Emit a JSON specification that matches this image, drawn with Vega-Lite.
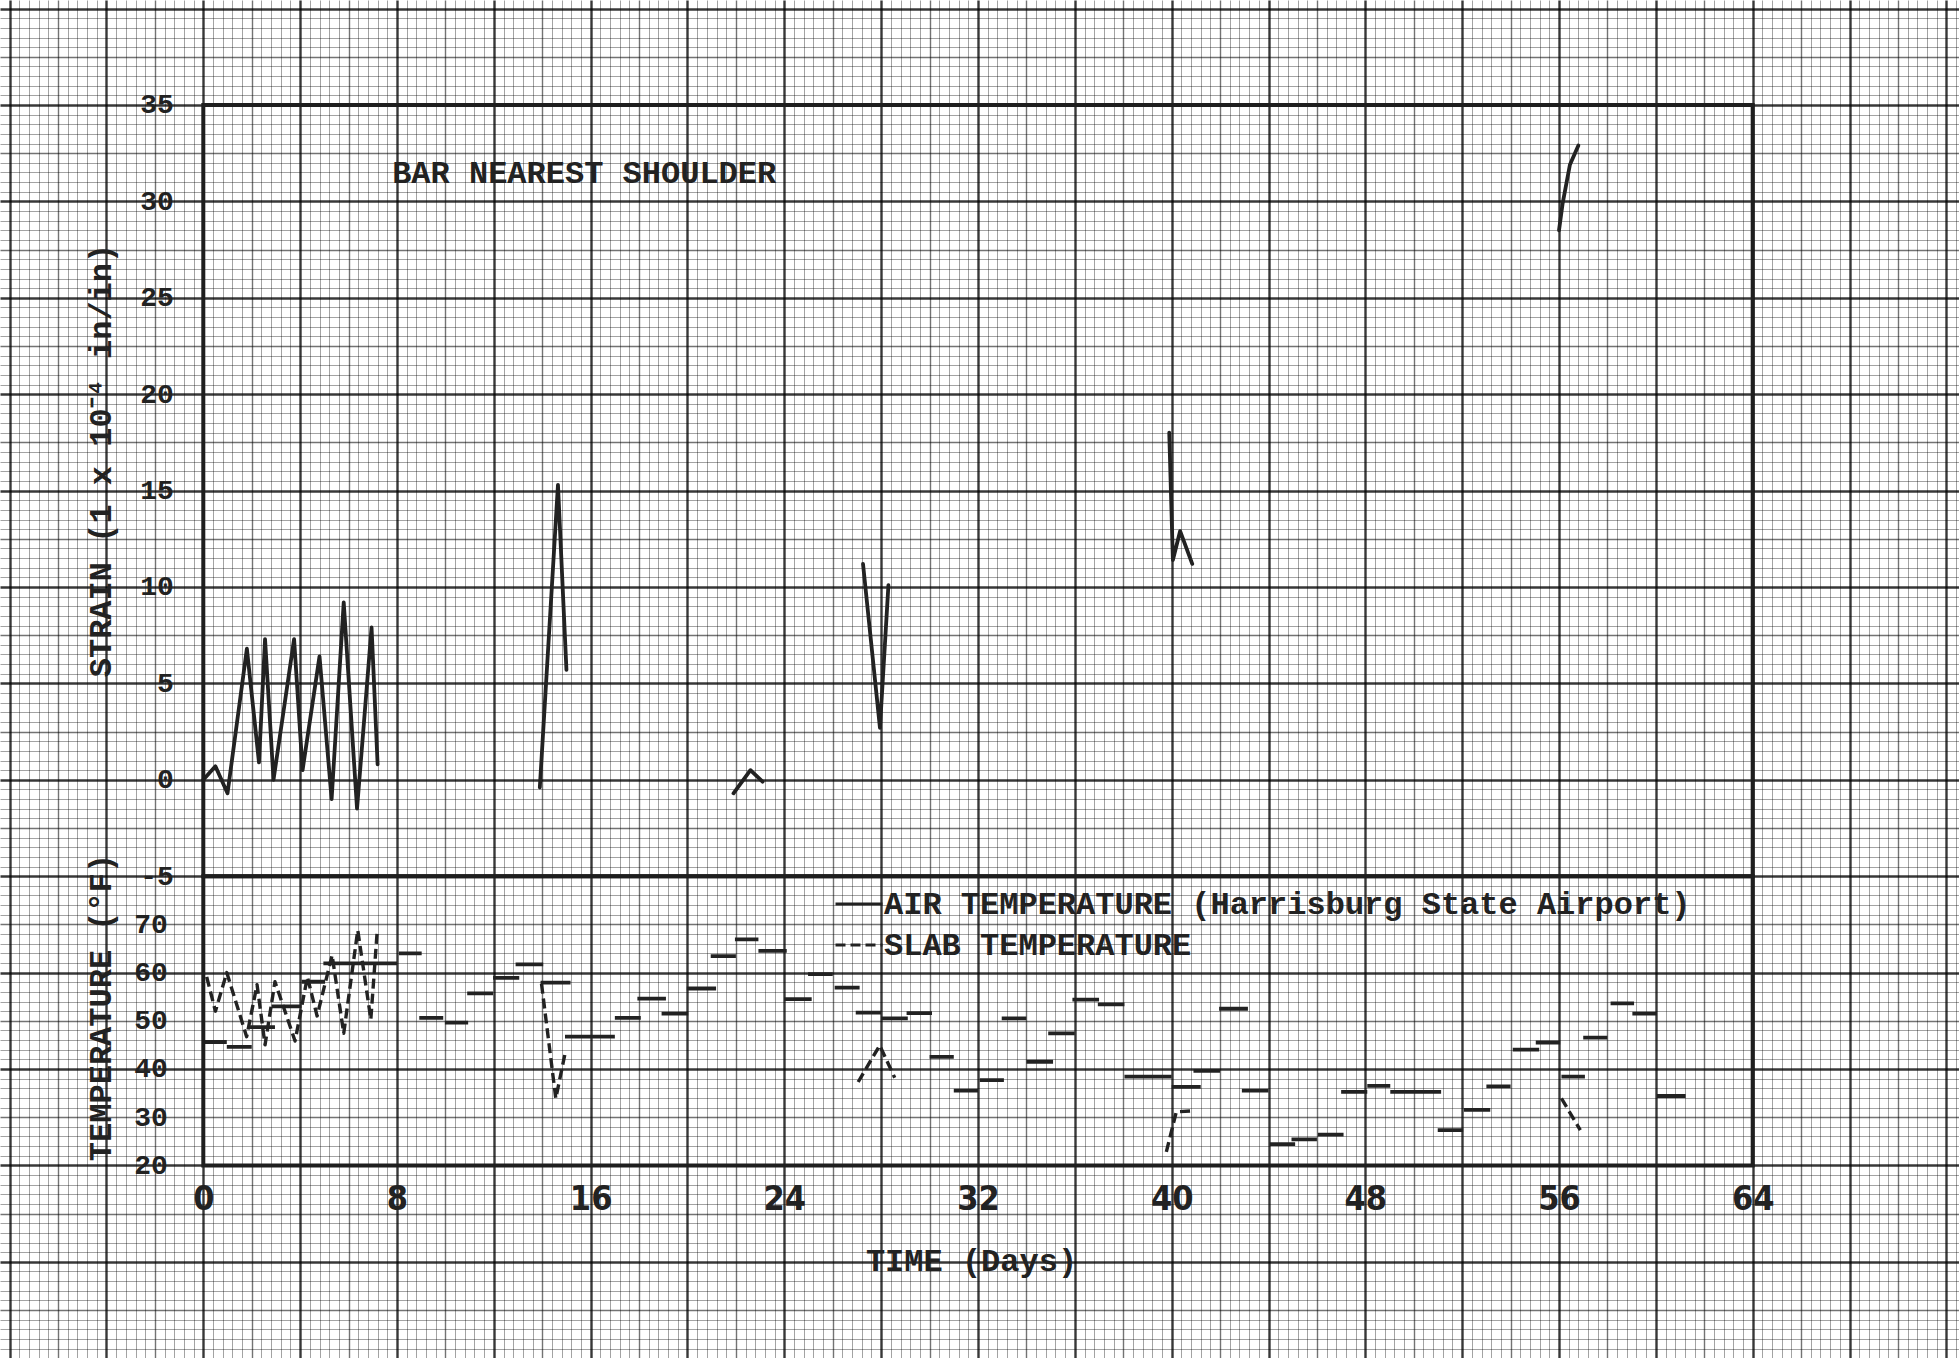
{
  "$schema": "https://vega.github.io/schema/vega-lite/v6.json",
  "width": 1959,
  "height": 1358,
  "autosize": {"type": "none"},
  "padding": 0,
  "background": "#ffffff",
  "config": {"view": {"stroke": null}, "font": "Liberation Mono"},
  "datasets": {
    "strain": [
      {"seg": "A", "day": 0, "strain": 0},
      {"seg": "A", "day": 0.5, "strain": 0.7},
      {"seg": "A", "day": 1.0, "strain": -0.7},
      {"seg": "A", "day": 1.8, "strain": 6.8},
      {"seg": "A", "day": 2.3, "strain": 0.9},
      {"seg": "A", "day": 2.55, "strain": 7.3},
      {"seg": "A", "day": 2.9, "strain": 0.0},
      {"seg": "A", "day": 3.75, "strain": 7.3},
      {"seg": "A", "day": 4.1, "strain": 0.5},
      {"seg": "A", "day": 4.8, "strain": 6.4},
      {"seg": "A", "day": 5.3, "strain": -1.0},
      {"seg": "A", "day": 5.8, "strain": 9.2},
      {"seg": "A", "day": 6.35, "strain": -1.5},
      {"seg": "A", "day": 6.95, "strain": 7.9},
      {"seg": "A", "day": 7.2, "strain": 0.8},
      {"seg": "B", "day": 13.9, "strain": -0.4},
      {"seg": "B", "day": 14.65, "strain": 15.3},
      {"seg": "B", "day": 15.0, "strain": 5.7},
      {"seg": "C", "day": 21.9, "strain": -0.7},
      {"seg": "C", "day": 22.6, "strain": 0.5},
      {"seg": "C", "day": 23.1, "strain": -0.1},
      {"seg": "D", "day": 27.25, "strain": 11.2},
      {"seg": "D", "day": 27.95, "strain": 2.7},
      {"seg": "D", "day": 28.3, "strain": 10.1},
      {"seg": "E", "day": 39.9, "strain": 18.0},
      {"seg": "E", "day": 40.05, "strain": 11.4},
      {"seg": "E", "day": 40.35, "strain": 12.9},
      {"seg": "E", "day": 40.85, "strain": 11.2},
      {"seg": "F", "day": 56.0, "strain": 28.5},
      {"seg": "F", "day": 56.15, "strain": 29.9},
      {"seg": "F", "day": 56.45, "strain": 31.9},
      {"seg": "F", "day": 56.8, "strain": 32.9}
    ],
    "air": [
      {"start": 0.0, "end": 0.97, "temp": 45.6},
      {"start": 0.97, "end": 2.0, "temp": 44.6},
      {"start": 1.93, "end": 2.96, "temp": 48.7},
      {"start": 2.82, "end": 4.06, "temp": 53.0},
      {"start": 4.06, "end": 5.03, "temp": 58.1},
      {"start": 4.96, "end": 8.0, "temp": 61.9},
      {"start": 8.08, "end": 9.02, "temp": 64.0},
      {"start": 8.92, "end": 9.91, "temp": 50.6},
      {"start": 9.98, "end": 10.94, "temp": 49.6},
      {"start": 10.9, "end": 11.97, "temp": 55.7},
      {"start": 11.97, "end": 13.05, "temp": 58.9},
      {"start": 12.9, "end": 14.04, "temp": 61.7},
      {"start": 13.93, "end": 15.17, "temp": 57.9},
      {"start": 14.94, "end": 17.0, "temp": 46.7},
      {"start": 17.0, "end": 18.07, "temp": 50.6},
      {"start": 17.93, "end": 19.11, "temp": 54.6},
      {"start": 18.93, "end": 20.03, "temp": 51.5},
      {"start": 19.97, "end": 21.18, "temp": 56.7},
      {"start": 20.96, "end": 22.0, "temp": 63.4},
      {"start": 21.96, "end": 22.93, "temp": 66.9},
      {"start": 22.93, "end": 24.1, "temp": 64.5},
      {"start": 23.99, "end": 25.13, "temp": 54.5},
      {"start": 24.98, "end": 26.0, "temp": 59.7},
      {"start": 26.08, "end": 27.11, "temp": 56.9},
      {"start": 26.95, "end": 28.0, "temp": 51.7},
      {"start": 28.0, "end": 29.1, "temp": 50.5},
      {"start": 29.05, "end": 30.1, "temp": 51.6},
      {"start": 30.0, "end": 31.0, "temp": 42.5},
      {"start": 31.0, "end": 32.0, "temp": 35.5},
      {"start": 32.07, "end": 33.07, "temp": 37.7},
      {"start": 32.98, "end": 34.0, "temp": 50.5},
      {"start": 34.0, "end": 35.1, "temp": 41.5},
      {"start": 34.9, "end": 36.0, "temp": 47.4},
      {"start": 35.9, "end": 37.0, "temp": 54.4},
      {"start": 36.95, "end": 38.05, "temp": 53.4},
      {"start": 38.05, "end": 40.0, "temp": 38.4},
      {"start": 40.0, "end": 41.2, "temp": 36.3},
      {"start": 40.9, "end": 42.0, "temp": 39.6},
      {"start": 41.96, "end": 43.15, "temp": 52.5},
      {"start": 42.9, "end": 44.0, "temp": 35.5},
      {"start": 44.05, "end": 45.1, "temp": 24.4},
      {"start": 44.95, "end": 46.0, "temp": 25.4},
      {"start": 46.04, "end": 47.1, "temp": 26.4},
      {"start": 47.0, "end": 48.08, "temp": 35.25},
      {"start": 48.08, "end": 49.03, "temp": 36.5},
      {"start": 49.03, "end": 51.13, "temp": 35.25},
      {"start": 50.99, "end": 52.04, "temp": 27.3},
      {"start": 52.07, "end": 53.16, "temp": 31.5},
      {"start": 53.0, "end": 54.0, "temp": 36.4},
      {"start": 54.09, "end": 55.18, "temp": 44.0},
      {"start": 55.04, "end": 56.05, "temp": 45.5},
      {"start": 56.1, "end": 57.07, "temp": 38.4},
      {"start": 57.0, "end": 58.0, "temp": 46.5},
      {"start": 58.13, "end": 59.1, "temp": 53.6},
      {"start": 59.03, "end": 60.04, "temp": 51.5},
      {"start": 60.04, "end": 61.23, "temp": 34.4}
    ],
    "slab": [
      {"seg": "S1", "day": 0.14, "temp": 59.1},
      {"seg": "S1", "day": 0.5, "temp": 52.0},
      {"seg": "S1", "day": 0.97, "temp": 60.0},
      {"seg": "S1", "day": 1.79, "temp": 46.7},
      {"seg": "S1", "day": 2.22, "temp": 57.5},
      {"seg": "S1", "day": 2.55, "temp": 45.0},
      {"seg": "S1", "day": 2.96, "temp": 58.1},
      {"seg": "S1", "day": 3.79, "temp": 45.8},
      {"seg": "S1", "day": 4.3, "temp": 59.1},
      {"seg": "S1", "day": 4.7, "temp": 51.0},
      {"seg": "S1", "day": 5.32, "temp": 63.6},
      {"seg": "S1", "day": 5.8, "temp": 47.4},
      {"seg": "S1", "day": 6.38, "temp": 68.8},
      {"seg": "S1", "day": 6.92, "temp": 50.3},
      {"seg": "S1", "day": 7.18, "temp": 68.4},
      {"seg": "S2", "day": 13.97, "temp": 57.7},
      {"seg": "S2", "day": 14.56, "temp": 33.9},
      {"seg": "S2", "day": 14.93, "temp": 42.9},
      {"seg": "S3", "day": 27.05, "temp": 37.3},
      {"seg": "S3", "day": 27.94, "temp": 44.9},
      {"seg": "S3", "day": 28.56, "temp": 38.2},
      {"seg": "S4", "day": 39.78, "temp": 22.8},
      {"seg": "S4", "day": 40.19, "temp": 31.1},
      {"seg": "S4", "day": 40.8, "temp": 31.3},
      {"seg": "S5", "day": 56.1, "temp": 33.9},
      {"seg": "S5", "day": 56.88, "temp": 27.3}
    ]
  },
  "layer": [
    {
      "layer": [
        {
          "data": {"name": "strain"},
          "mark": {"type": "line", "stroke": "#222222", "strokeWidth": 3.8, "strokeJoin": "round", "strokeCap": "round"},
          "encoding": {
            "x": {
              "field": "day", "type": "quantitative",
              "scale": {"domain": [-8.398, 72.522], "nice": false, "zero": false},
              "axis": {
                "orient": "bottom", "offset": -192.6, "tickCount": 1000,
                "values": [-8,-7.6,-7.2,-6.8,-6.4,-6,-5.6,-5.2,-4.8,-4.4,-4,-3.6,-3.2,-2.8,-2.4,-2,-1.6,-1.2,-0.8,-0.4,0,0.4,0.8,1.2,1.6,2,2.4,2.8,3.2,3.6,4,4.4,4.8,5.2,5.6,6,6.4,6.8,7.2,7.6,8,8.4,8.8,9.2,9.6,10,10.4,10.8,11.2,11.6,12,12.4,12.8,13.2,13.6,14,14.4,14.8,15.2,15.6,16,16.4,16.8,17.2,17.6,18,18.4,18.8,19.2,19.6,20,20.4,20.8,21.2,21.6,22,22.4,22.8,23.2,23.6,24,24.4,24.8,25.2,25.6,26,26.4,26.8,27.2,27.6,28,28.4,28.8,29.2,29.6,30,30.4,30.8,31.2,31.6,32,32.4,32.8,33.2,33.6,34,34.4,34.8,35.2,35.6,36,36.4,36.8,37.2,37.6,38,38.4,38.8,39.2,39.6,40,40.4,40.8,41.2,41.6,42,42.4,42.8,43.2,43.6,44,44.4,44.8,45.2,45.6,46,46.4,46.8,47.2,47.6,48,48.4,48.8,49.2,49.6,50,50.4,50.8,51.2,51.6,52,52.4,52.8,53.2,53.6,54,54.4,54.8,55.2,55.6,56,56.4,56.8,57.2,57.6,58,58.4,58.8,59.2,59.6,60,60.4,60.8,61.2,61.6,62,62.4,62.8,63.2,63.6,64,64.4,64.8,65.2,65.6,66,66.4,66.8,67.2,67.6,68,68.4,68.8,69.2,69.6,70,70.4,70.8,71.2,71.6,72,72.4],
                "grid": true,
                "gridColor": "#000000",
                "gridOpacity": {"condition": [{"test": "abs(datum.value/4-round(datum.value/4))<0.01", "value": 0.78}, {"test": "abs(datum.value/2-round(datum.value/2))<0.01", "value": 0.55}], "value": 0.36},
                "gridWidth": {"condition": [{"test": "abs(datum.value/4-round(datum.value/4))<0.01", "value": 2.4}, {"test": "abs(datum.value/2-round(datum.value/2))<0.01", "value": 1.4}], "value": 1},
                "domain": false, "ticks": false, "tickSize": 0,
                "labelExpr": "(abs(datum.value/8-round(datum.value/8))<0.01 && datum.value>-0.01 && datum.value<64.01) ? '' + round(datum.value) : ''",
                "labelOverlap": false, "labelFlush": false,
                "labelFont": "Liberation Sans Narrow, DejaVu Sans Condensed, sans-serif",
                "labelFontSize": 34, "labelFontWeight": "bold", "labelColor": "#222222",
                "labelPadding": 34, "labelBaseline": "middle", "labelAlign": "center",
                "title": "TIME (Days)", "titleFont": "Liberation Mono", "titleFontSize": 32, "titleFontWeight": "bold", "titleColor": "#222222",
                "titleX": 971, "titleY": 95, "titleAlign": "center", "titleBaseline": "middle", "titleAngle": 0
              }
            },
            "y": {
              "field": "strain", "type": "quantitative",
              "scale": {"domain": [-29.99, 40.446], "nice": false, "zero": false},
              "axis": {
                "orient": "left", "offset": -203.3, "tickCount": 1000,
                "values": [-29.5,-29,-28.5,-28,-27.5,-27,-26.5,-26,-25.5,-25,-24.5,-24,-23.5,-23,-22.5,-22,-21.5,-21,-20.5,-20,-19.5,-19,-18.5,-18,-17.5,-17,-16.5,-16,-15.5,-15,-14.5,-14,-13.5,-13,-12.5,-12,-11.5,-11,-10.5,-10,-9.5,-9,-8.5,-8,-7.5,-7,-6.5,-6,-5.5,-5,-4.5,-4,-3.5,-3,-2.5,-2,-1.5,-1,-0.5,0,0.5,1,1.5,2,2.5,3,3.5,4,4.5,5,5.5,6,6.5,7,7.5,8,8.5,9,9.5,10,10.5,11,11.5,12,12.5,13,13.5,14,14.5,15,15.5,16,16.5,17,17.5,18,18.5,19,19.5,20,20.5,21,21.5,22,22.5,23,23.5,24,24.5,25,25.5,26,26.5,27,27.5,28,28.5,29,29.5,30,30.5,31,31.5,32,32.5,33,33.5,34,34.5,35,35.5,36,36.5,37,37.5,38,38.5,39,39.5,40],
                "grid": true,
                "gridColor": "#000000",
                "gridOpacity": {"condition": [{"test": "abs(datum.value/5-round(datum.value/5))<0.01", "value": 0.78}, {"test": "abs(datum.value/2.5-round(datum.value/2.5))<0.01", "value": 0.55}], "value": 0.36},
                "gridWidth": {"condition": [{"test": "abs(datum.value/5-round(datum.value/5))<0.01", "value": 2.4}, {"test": "abs(datum.value/2.5-round(datum.value/2.5))<0.01", "value": 1.4}], "value": 1},
                "domain": false, "ticks": false, "tickSize": 0,
                "labelExpr": "(abs(datum.value/5-round(datum.value/5))<0.01 && datum.value>-5.01 && datum.value<35.01) ? '' + round(datum.value) : ''",
                "labelOverlap": false, "labelFlush": false,
                "labelFont": "Liberation Mono", "labelFontSize": 28, "labelFontWeight": "bold", "labelColor": "#222222",
                "labelPadding": 30,
                "title": "STRAIN (1 x 10⁻⁴ in/in)", "titleFont": "Liberation Mono", "titleFontSize": 32, "titleFontWeight": "bold", "titleColor": "#222222",
                "titleX": -103, "titleY": 460, "titleAngle": -90, "titleAlign": "center", "titleBaseline": "middle"
              }
            },
            "detail": {"field": "seg"}
          }
        },
        {
          "data": {"values": [{}]},
          "mark": {"type": "rect", "filled": false, "stroke": "#1e1e1e", "strokeWidth": 4},
          "encoding": {
            "x": {"datum": 0, "type": "quantitative", "scale": {"domain": [-8.398, 72.522], "nice": false, "zero": false}},
            "x2": {"datum": 64},
            "y": {"datum": -5, "type": "quantitative", "scale": {"domain": [-29.99, 40.446], "nice": false, "zero": false}},
            "y2": {"datum": 35}
          }
        },
        {
          "data": {"values": [{}]},
          "mark": {"type": "text", "text": "BAR NEAREST SHOULDER", "align": "left", "baseline": "middle", "font": "Liberation Mono", "fontSize": 32, "fontWeight": "bold", "fill": "#222222"},
          "encoding": {
            "x": {"datum": 7.8, "type": "quantitative"},
            "y": {"datum": 31.45, "type": "quantitative"}
          }
        }
      ]
    },
    {
      "layer": [
        {
          "data": {"name": "air"},
          "mark": {"type": "rule", "stroke": "#222222", "strokeWidth": 3.8, "strokeCap": "butt"},
          "encoding": {
            "x": {"field": "start", "type": "quantitative", "scale": {"domain": [-8.398, 72.522], "nice": false, "zero": false}},
            "x2": {"field": "end"},
            "y": {
              "field": "temp", "type": "quantitative",
              "scale": {"domain": [-19.96, 261.78], "nice": false, "zero": false},
              "axis": {
                "orient": "left", "offset": -203.3,
                "values": [20, 30, 40, 50, 60, 70],
                "grid": false, "domain": false, "ticks": false, "tickSize": 0,
                "labelOverlap": false, "labelFlush": false,
                "labelFont": "Liberation Mono", "labelFontSize": 28, "labelFontWeight": "bold", "labelColor": "#222222",
                "labelPadding": 36,
                "title": "TEMPERATURE (°F)", "titleFont": "Liberation Mono", "titleFontSize": 32, "titleFontWeight": "bold", "titleColor": "#222222",
                "titleX": -103, "titleY": 1007, "titleAngle": -90, "titleAlign": "center", "titleBaseline": "middle"
              }
            },
            "strokeDash": {
              "datum": "AIR TEMPERATURE (Harrisburg State Airport)", "type": "nominal",
              "scale": {"domain": ["AIR TEMPERATURE (Harrisburg State Airport)", "SLAB TEMPERATURE"], "range": [[1, 0], [10, 5]]},
              "legend": {
                "orient": "none", "legendX": 834, "legendY": 879, "title": null,
                "symbolType": "stroke", "symbolSize": 2209, "symbolStrokeWidth": 3, "symbolStrokeColor": "#222222", "symbolFillColor": "transparent",
                "labelFont": "Liberation Mono", "labelFontSize": 32, "labelFontWeight": "bold", "labelColor": "#222222",
                "labelOffset": 0, "labelLimit": 1500, "rowPadding": -9, "padding": 0, "symbolOffset": 0
              }
            }
          }
        },
        {
          "data": {"name": "slab"},
          "mark": {"type": "line", "stroke": "#222222", "strokeWidth": 3.4, "strokeJoin": "round"},
          "encoding": {
            "x": {"field": "day", "type": "quantitative", "scale": {"domain": [-8.398, 72.522], "nice": false, "zero": false}},
            "y": {"field": "temp", "type": "quantitative", "scale": {"domain": [-19.96, 261.78], "nice": false, "zero": false}},
            "detail": {"field": "seg"},
            "strokeDash": {"datum": "SLAB TEMPERATURE", "type": "nominal"}
          }
        },
        {
          "data": {"values": [{}]},
          "mark": {"type": "rect", "filled": false, "stroke": "#1e1e1e", "strokeWidth": 4},
          "encoding": {
            "x": {"datum": 0, "type": "quantitative", "scale": {"domain": [-8.398, 72.522], "nice": false, "zero": false}},
            "x2": {"datum": 64},
            "y": {"datum": 20, "type": "quantitative", "scale": {"domain": [-19.96, 261.78], "nice": false, "zero": false}},
            "y2": {"datum": 80}
          }
        }
      ]
    }
  ],
  "resolve": {"scale": {"y": "independent"}}
}
